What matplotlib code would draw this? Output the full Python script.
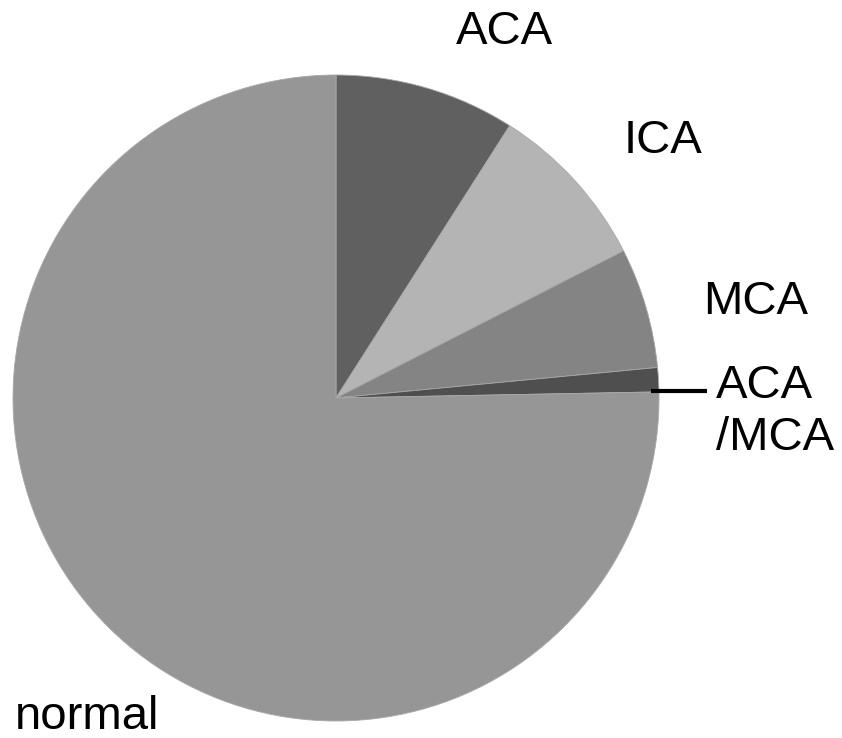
import matplotlib
matplotlib.use("Agg")
import matplotlib.pyplot as plt

# Patient counts per vessel category
categories = ["ACA", "ICA", "MCA", "ACA/MCA", "normal"]
counts = [15, 14, 10, 2, 125]
colors = ["#606060", "#b4b4b4", "#848484", "#4f4f4f", "#969696"]

W, H = 842, 738
fig = plt.figure(figsize=(W / 100, H / 100), dpi=100)
cx, cy, r = 336, 398, 323
ax = fig.add_axes([(cx - r) / W, (H - cy - r) / H, 2 * r / W, 2 * r / H])

ax.pie(counts, colors=colors, startangle=90, counterclock=False, radius=1,
       wedgeprops=dict(edgecolor="#a8a8a8", linewidth=0.6))
ax.set_xlim(-1, 1)
ax.set_ylim(-1, 1)
ax.set_aspect("equal")
ax.axis("off")


def px(x, y):
    return (x - cx) / r, (cy - y) / r


fs = 34
fam = ["Liberation Sans", "DejaVu Sans"]
kw = dict(fontsize=fs, family=fam, clip_on=False, color="black")
ax.text(*px(504, 32), "ACA", ha="center", va="center", **kw)
ax.text(*px(663, 141), "ICA", ha="center", va="center", **kw)
ax.text(*px(756, 302), "MCA", ha="center", va="center", **kw)
ax.text(*px(716, 412), "ACA\n/MCA", ha="left", va="center", linespacing=1.25, **kw)
ax.text(*px(15, 717), "normal", ha="left", va="center", **kw)

x0, y0 = px(651, 391)
x1, _ = px(707, 391)
ax.plot([x0, x1], [y0, y0], color="black", linewidth=3, clip_on=False,
        solid_capstyle="butt")

fig.savefig("out.png", dpi=100, facecolor="white")
